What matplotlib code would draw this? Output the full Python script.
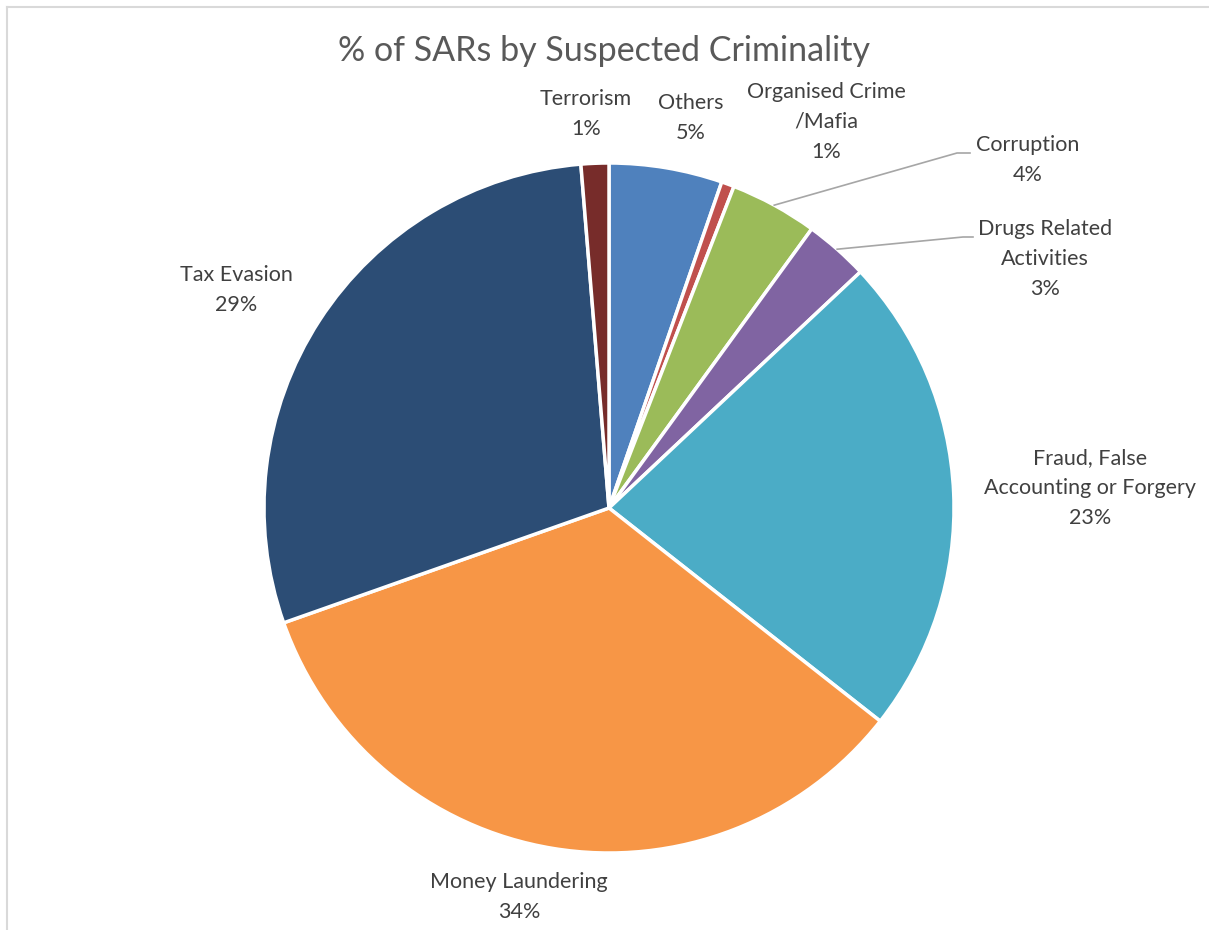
import numpy as np
import matplotlib
matplotlib.use("Agg")
import matplotlib.pyplot as plt

# data, clockwise from 12 o'clock
categories = ["Others", "Organised Crime\n/Mafia", "Corruption", "Drugs Related\nActivities",
              "Fraud, False\nAccounting or Forgery", "Money Laundering", "Tax Evasion", "Terrorism"]
shares = [5.3, 0.6, 4.1, 3.0, 22.6, 34.0, 29.1, 1.3]
colors = ["#4F81BD", "#C0504D", "#9BBB59", "#8064A2", "#4BACC6", "#F79646", "#2C4D75", "#772C2A"]

# label centres in pixel coords (x, y from top)
label_pos = [(691, 118), (826, 122), (1028, 160), (1045, 259),
             (1090, 488), (519, 897), (236, 290), (586, 114)]
# leader line elbows for the labels that need one
leaders = {2: (957, 153, 970), 3: (963, 237, 973)}

W, H = 1209, 930
plt.rcParams["font.family"] = ["Lato", "DejaVu Sans"]

fig = plt.figure(figsize=(W / 100, H / 100), dpi=100)
ax = fig.add_axes([0, 0, 1, 1])

cx, cy, r = 609, H - 508, 345
wedges, _ = ax.pie(shares, colors=colors, startangle=90, counterclock=False,
                   center=(cx, cy), radius=r, frame=True,
                   wedgeprops=dict(edgecolor="white", linewidth=2.5))
ax.set_xlim(0, W)
ax.set_ylim(0, H)
ax.set_aspect("equal")
ax.axis("off")

txt_color = "#404040"
for i, (name, v) in enumerate(zip(categories, shares)):
    x, y = label_pos[i]
    ax.text(x, H - y, f"{name}\n{v:.0f}%", ha="center", va="center",
            fontsize=15.5, color=txt_color, linespacing=1.6)

for i, (ex, ey, tx) in leaders.items():
    w = wedges[i]
    mid = np.deg2rad((w.theta1 + w.theta2) / 2)
    sx, sy = cx + r * np.cos(mid), cy + r * np.sin(mid)
    ax.plot([sx, ex, tx], [sy, H - ey, H - ey], color="#A6A6A6", lw=1.2)

fig.text(0.5, 1 - 51 / H, "% of SARs by Suspected Criminality", ha="center", va="center",
         fontsize=24.5, color="#595959")

# chart-area border (top and left visible)
fig.add_artist(plt.Line2D([6.5 / W, 1], [1 - 7.5 / H, 1 - 7.5 / H], color="#D9D9D9", lw=1.5))
fig.add_artist(plt.Line2D([6.5 / W, 6.5 / W], [0, 1 - 7.5 / H], color="#D9D9D9", lw=1.5))

fig.savefig("out.png", dpi=100)
